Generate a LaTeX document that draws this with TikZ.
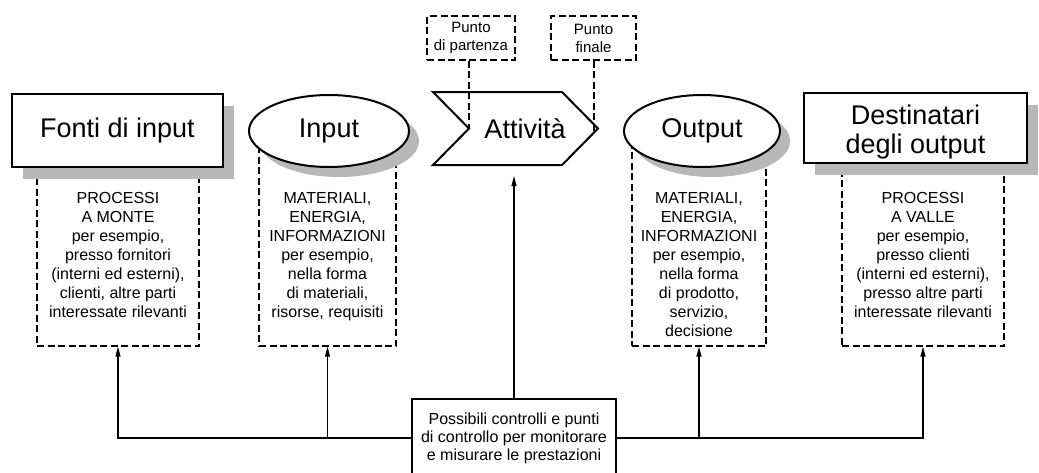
\documentclass[tikz,border=0pt]{standalone}
\usepackage{fontspec}
\setmainfont{Liberation Sans}
\usetikzlibrary{shapes.geometric,shadows,arrows.meta}

\begin{document}
\begin{tikzpicture}[x=1pt,y=-1pt,
  solidbox/.style={draw,line width=2pt,fill=white,inner sep=0pt},
  boxshade/.style={drop shadow={shadow xshift=11pt,shadow yshift=-12pt,fill=black!28,opacity=1}},
  ovalshade/.style={drop shadow={shadow xshift=10pt,shadow yshift=-10pt,fill=black!28,opacity=1}},
  dashbox/.style={draw,line width=1.2pt,dash pattern=on 7pt off 3.5pt,inner sep=0pt},
  dashlink/.style={line width=1.2pt,dash pattern=on 7pt off 3.5pt},
  bigtext/.style={font=\fontsize{27}{29}\selectfont},
  smalltext/.style={font=\fontsize{16}{19}\selectfont,align=center,inner sep=0pt,anchor=north},
  link/.style={line width=1.2pt,-{Triangle[length=10pt,width=5pt]}},
]
\useasboundingbox (0,0) rectangle (1039,472);
\fill[white] (0,0) rectangle (1039,472);

% dashed detail frames (their tops are hidden under the shapes)
\node[dashbox,minimum width=162pt,minimum height=216pt] (fontiD) at (118,238) {};
\node[dashbox,minimum width=137pt,minimum height=215pt] (inputD) at (327.5,238.5) {};
\node[dashbox,minimum width=134pt,minimum height=215pt] (outputD) at (699,238.5) {};
\node[dashbox,minimum width=162pt,minimum height=215pt] (destD) at (923,238.5) {};

% main shapes with drop shadows
\node[solidbox,boxshade,minimum width=211pt,minimum height=73pt,bigtext] (fonti) at (117.5,130.5) {Fonti di input};
\node[solidbox,ellipse,ovalshade,minimum width=160pt,minimum height=72pt,bigtext] (input) at (329,131) {Input};
\node[solidbox,ellipse,ovalshade,minimum width=156pt,minimum height=72pt,bigtext] (output) at (702,131) {Output};
\node[solidbox,boxshade,minimum width=223pt,minimum height=70pt] (dest) at (915.5,128) {};
\node[bigtext,align=center,inner sep=0pt] (destT) at (915.5,132) {Destinatari\\degli output};

% activity chevron
\coordinate (cA) at (433,92);
\coordinate (cB) at (562,92);
\coordinate (tip) at (598,128.5);
\coordinate (cC) at (562,165);
\coordinate (cD) at (433,165);
\coordinate (notch) at (469,128.5);
\coordinate (actS) at (514,176);
\coordinate (fend) at (594,133);
\begin{scope}[shift={(10,10)}]
  \fill[black!28] (cA) -- (cB) -- (tip) -- (cC) -- (cD) -- (notch) -- cycle;
\end{scope}
\draw[line width=2pt,fill=white,line join=miter] (cA) -- (cB) -- (tip) -- (cC) -- (cD) -- (notch) -- cycle;
\node[bigtext,inner sep=0pt] (act) at (525,128.5) {Attività};

% start and end markers
\node[dashbox,minimum width=88pt,minimum height=44pt,align=center,font=\fontsize{15}{18}\selectfont] (start) at (471,38) {Punto\\di partenza};
\node[dashbox,minimum width=85pt,minimum height=44pt,align=center,font=\fontsize{15}{18}\selectfont] (finish) at (593.5,38) {Punto\\finale};
\draw[dashlink] (start.south -| notch) -- (notch);
\draw[dashlink] (finish.south -| fend) -- (fend);

% detail texts
\node[smalltext] (fontiT) at (118,192.5) {PROCESSI\\A MONTE\\per esempio,\\presso fornitori\\(interni ed esterni),\\clienti, altre parti\\interessate rilevanti};
\node[smalltext] (inputT) at (327.5,192.5) {MATERIALI,\\ENERGIA,\\INFORMAZIONI\\per esempio,\\nella forma\\di materiali,\\risorse, requisiti};
\node[smalltext] (outputT) at (699,192.5) {MATERIALI,\\ENERGIA,\\INFORMAZIONI\\per esempio,\\nella forma\\di prodotto,\\servizio,\\decisione};
\node[smalltext] (destT2) at (923,192.5) {PROCESSI\\A VALLE\\per esempio,\\presso clienti\\(interni ed esterni),\\presso altre parti\\interessate rilevanti};

% monitoring box and its connectors
\node[solidbox,minimum width=204pt,minimum height=78pt,align=center,font=\fontsize{16}{18}\selectfont] (ctrl) at (514,438) {Possibili controlli e punti\\di controllo per monitorare\\e misurare le prestazioni};
\draw[link] (ctrl.west) -| (fontiD.south);
\draw[link] (ctrl.west) -| (inputD.south);
\draw[link] (ctrl.east) -| (outputD.south);
\draw[link] (ctrl.east) -| (destD.south);
\draw[link] (ctrl.north) -- (ctrl.north |- actS);
\end{tikzpicture}
\end{document}
